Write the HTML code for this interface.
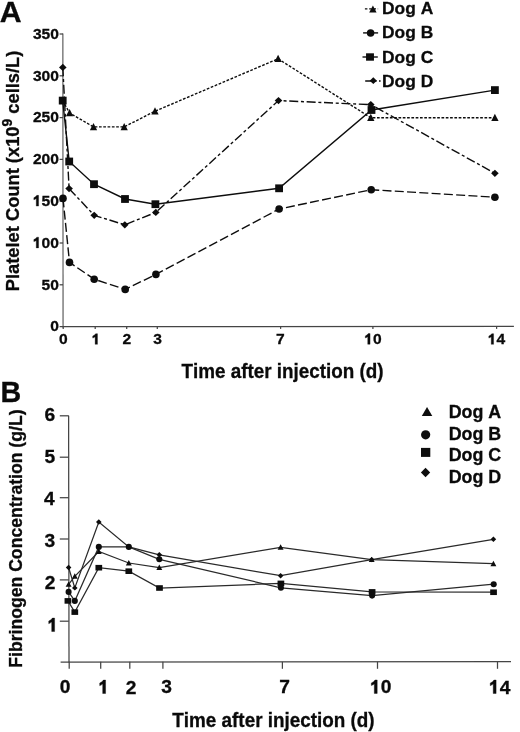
<!DOCTYPE html>
<html><head><meta charset="utf-8"><title>Platelet count and fibrinogen concentration</title>
<style>html,body{margin:0;padding:0;background:#fff;}body{width:520px;height:732px;overflow:hidden;}svg{display:block;filter:grayscale(1) blur(0.35px);}text{font-family:"Liberation Sans", sans-serif;font-weight:bold;fill:#0a0a0a;font-kerning:none;font-variant-ligatures:none;stroke:#0a0a0a;stroke-width:0.3px;}.g1{fill:#0a0a0a;stroke:#0a0a0a;stroke-width:0.02px;}</style>
</head><body>
<svg width="520" height="732" viewBox="0 0 520 732">
<rect width="520" height="732" fill="#fff"/>
<text transform="translate(-0.35,21.60) scale(1.0204,1)" font-size="29.65">A</text>
<path d="M62.8,33.6 L63.1,327.2" stroke="#888" stroke-width="1.6" fill="none"/>
<g stroke="#454545" stroke-width="1.25" fill="none">
<path d="M62.3,326.7 L513.9,326.4"/>
<path d="M59.6,326.6H63"/>
<path d="M59.6,284.8H63"/>
<path d="M59.6,243.0H63"/>
<path d="M59.6,201.2H63"/>
<path d="M59.6,159.4H63"/>
<path d="M59.6,117.6H63"/>
<path d="M59.6,75.8H63"/>
<path d="M59.6,34.0H63"/>
<path d="M63.2,326.3v2.6"/>
<path d="M95.2,326.3v2.6"/>
<path d="M126.7,326.3v2.6"/>
<path d="M157.3,326.3v2.6"/>
<path d="M280.6,326.3v2.6"/>
<path d="M372.9,326.3v2.6"/>
<path d="M496.6,326.3v2.6"/>
</g>
<text transform="translate(50.26,331.47) scale(1.0200,1)" font-size="15.30">0</text>
<text transform="translate(41.58,289.67) scale(1.0200,1)" font-size="15.30">50</text>
<path class="g1" transform="translate(32.90,247.88) scale(15.606,15.300)" d="M0.215,0L0.365,0L0.365,-0.700L0.250,-0.700Q0.200,-0.600 0.060,-0.545L0.060,-0.410Q0.150,-0.440 0.215,-0.490Z"/><text transform="translate(41.58,247.88) scale(1.0200,1)" font-size="15.30">0</text><text transform="translate(50.26,247.88) scale(1.0200,1)" font-size="15.30">0</text>
<path class="g1" transform="translate(32.90,206.08) scale(15.606,15.300)" d="M0.215,0L0.365,0L0.365,-0.700L0.250,-0.700Q0.200,-0.600 0.060,-0.545L0.060,-0.410Q0.150,-0.440 0.215,-0.490Z"/><text transform="translate(41.58,206.08) scale(1.0200,1)" font-size="15.30">5</text><text transform="translate(50.26,206.08) scale(1.0200,1)" font-size="15.30">0</text>
<text transform="translate(32.90,164.27) scale(1.0200,1)" font-size="15.30">200</text>
<text transform="translate(32.90,122.47) scale(1.0200,1)" font-size="15.30">250</text>
<text transform="translate(32.90,80.66) scale(1.0200,1)" font-size="15.30">300</text>
<text transform="translate(32.90,38.86) scale(1.0200,1)" font-size="15.30">350</text>
<text transform="translate(59.07,344.27) scale(1.0200,1)" font-size="15.30">0</text>
<path class="g1" transform="translate(91.78,344.36) scale(15.606,15.300)" d="M0.215,0L0.365,0L0.365,-0.700L0.250,-0.700Q0.200,-0.600 0.060,-0.545L0.060,-0.410Q0.150,-0.440 0.215,-0.490Z"/>
<text transform="translate(122.40,344.34) scale(1.0200,1)" font-size="15.30">2</text>
<text transform="translate(153.26,344.26) scale(1.0200,1)" font-size="15.30">3</text>
<text transform="translate(275.97,344.26) scale(1.0200,1)" font-size="15.30">7</text>
<path class="g1" transform="translate(364.37,344.28) scale(15.606,15.300)" d="M0.215,0L0.365,0L0.365,-0.700L0.250,-0.700Q0.200,-0.600 0.060,-0.545L0.060,-0.410Q0.150,-0.440 0.215,-0.490Z"/><text transform="translate(373.05,344.28) scale(1.0200,1)" font-size="15.30">0</text>
<path class="g1" transform="translate(487.89,344.36) scale(15.606,15.300)" d="M0.215,0L0.365,0L0.365,-0.700L0.250,-0.700Q0.200,-0.600 0.060,-0.545L0.060,-0.410Q0.150,-0.440 0.215,-0.490Z"/><text transform="translate(496.57,344.36) scale(1.0200,1)" font-size="15.30">4</text>
<text transform="translate(181.59,377.60) scale(0.9394,1)" font-size="20.06">Time after injection (d)</text>
<text transform="translate(18.6,291.23) rotate(-90) scale(0.99,1)" font-size="18.5">Platelet Count (x10<tspan dy="-7.1" font-size="14">9</tspan><tspan dy="7.1"> cells/L)</tspan></text>
<g fill="none" stroke="#0d0d0d" stroke-width="1.4">
<polyline points="62.7,100.6 69.6,113.0 93.5,126.9 124.2,126.9 155.0,111.2 278.1,58.8 370.8,117.7 494.9,117.8" stroke-dasharray="2.7 1.6"/>
<polyline points="63.0,198.4 69.5,262.4 94.2,279.2 125.2,289.4 155.9,274.4 279.1,209.0 371.2,189.7 494.9,197.2" stroke-dasharray="9 3.3"/>
<polyline points="62.7,100.6 69.2,161.5 94.0,184.2 125.0,199.0 155.4,204.2 279.1,188.3 371.5,110.0 494.9,90.1"/>
<polyline points="62.8,67.4 69.1,188.6 94.2,215.3 124.8,224.8 155.8,212.4 278.5,100.6 370.8,104.6 494.9,173.3" stroke-dasharray="9 2.7 3 2.7"/>
</g>
<g fill="#0d0d0d">
<path d="M62.70,96.58L66.35,103.88L59.05,103.88Z"/>
<path d="M69.60,108.98L73.25,116.28L65.95,116.28Z"/>
<path d="M93.50,122.89L97.15,130.19L89.85,130.19Z"/>
<path d="M124.20,122.89L127.85,130.19L120.55,130.19Z"/>
<path d="M155.00,107.19L158.65,114.48L151.35,114.48Z"/>
<path d="M278.10,54.78L281.75,62.08L274.45,62.08Z"/>
<path d="M370.80,113.69L374.45,120.98L367.15,120.98Z"/>
<path d="M494.90,113.78L498.55,121.08L491.25,121.08Z"/>
<circle cx="63.00" cy="198.40" r="3.80"/>
<circle cx="69.50" cy="262.40" r="3.80"/>
<circle cx="94.20" cy="279.20" r="3.80"/>
<circle cx="125.20" cy="289.40" r="3.80"/>
<circle cx="155.90" cy="274.40" r="3.80"/>
<circle cx="279.10" cy="209.00" r="3.80"/>
<circle cx="371.20" cy="189.70" r="3.80"/>
<circle cx="494.90" cy="197.20" r="3.80"/>
<path d="M62.80,63.75L66.60,67.40L62.80,71.05L59.00,67.40Z"/>
<path d="M69.10,184.95L72.90,188.60L69.10,192.25L65.30,188.60Z"/>
<path d="M94.20,211.65L98.00,215.30L94.20,218.95L90.40,215.30Z"/>
<path d="M124.80,221.15L128.60,224.80L124.80,228.45L121.00,224.80Z"/>
<path d="M155.80,208.75L159.60,212.40L155.80,216.05L152.00,212.40Z"/>
<path d="M278.50,96.95L282.30,100.60L278.50,104.25L274.70,100.60Z"/>
<path d="M370.80,100.95L374.60,104.60L370.80,108.25L367.00,104.60Z"/>
<path d="M494.90,169.65L498.70,173.30L494.90,176.95L491.10,173.30Z"/>
<rect x="58.80" y="96.70" width="7.80" height="7.80"/>
<rect x="65.30" y="157.60" width="7.80" height="7.80"/>
<rect x="90.10" y="180.30" width="7.80" height="7.80"/>
<rect x="121.10" y="195.10" width="7.80" height="7.80"/>
<rect x="151.50" y="200.30" width="7.80" height="7.80"/>
<rect x="275.20" y="184.40" width="7.80" height="7.80"/>
<rect x="367.60" y="106.10" width="7.80" height="7.80"/>
<rect x="491.00" y="86.20" width="7.80" height="7.80"/>
</g>
<text transform="translate(382.04,14.10) scale(1.0145,1)" font-size="17.15">Dog A</text>
<text transform="translate(382.04,38.40) scale(1.0145,1)" font-size="17.15">Dog B</text>
<text transform="translate(382.04,62.80) scale(1.0145,1)" font-size="17.15">Dog C</text>
<text transform="translate(382.04,87.10) scale(1.0145,1)" font-size="17.15">Dog D</text>
<g fill="none" stroke="#0d0d0d" stroke-width="1.4">
<path d="M364.9,8.9H378.1" stroke-dasharray="2.5 1.8"/>
<path d="M363.1,32.9H378.1"/>
<path d="M362.5,57H377.8"/>
<path d="M365.2,81H376.6M379,81H380.6"/>
</g>
<g fill="#0d0d0d">
<path d="M372.90,5.40L376.60,12.50L369.20,12.50Z"/>
<circle cx="370.60" cy="33.00" r="3.75"/>
<rect x="366.05" y="53.30" width="7.90" height="7.40"/>
<path d="M373.30,77.30L376.90,80.70L373.30,84.10L369.70,80.70Z"/>
</g>
<text transform="translate(0.38,402.40) scale(0.9725,1)" font-size="29.51">B</text>
<g stroke="#454545" stroke-width="1.25" fill="none">
<path d="M68.6,415.8 L69.0,662.5"/>
<path d="M60.6,662.0 L511,661.6"/>
<path d="M59.8,415.8H68.8"/>
<path d="M59.8,457.2H68.8"/>
<path d="M59.8,497.7H68.8"/>
<path d="M59.8,539.0H68.8"/>
<path d="M59.8,579.9H68.8"/>
<path d="M59.8,621.2H68.8"/>
<path d="M69.2,661.8v7"/>
<path d="M100.7,661.8v7"/>
<path d="M129.8,661.8v7"/>
<path d="M162.9,661.8v7"/>
<path d="M282.4,661.8v7"/>
<path d="M377.5,661.8v7"/>
<path d="M497.5,661.8v7"/>
</g>
<text transform="translate(44.62,420.76)" font-size="19.20">6</text>
<text transform="translate(44.46,462.91)" font-size="19.20">5</text>
<text transform="translate(44.03,504.80)" font-size="19.20">4</text>
<text transform="translate(44.62,547.00)" font-size="19.20">3</text>
<text transform="translate(44.69,589.10)" font-size="19.20">2</text>
<path class="g1" transform="translate(47.59,631.52) scale(19.200,19.200)" d="M0.215,0L0.365,0L0.365,-0.700L0.250,-0.700Q0.200,-0.600 0.060,-0.545L0.060,-0.410Q0.150,-0.440 0.215,-0.490Z"/>
<text transform="translate(59.83,693.41)" font-size="19.20">0</text>
<path class="g1" transform="translate(98.57,693.52) scale(19.200,19.200)" d="M0.215,0L0.365,0L0.365,-0.700L0.250,-0.700Q0.200,-0.600 0.060,-0.545L0.060,-0.410Q0.150,-0.440 0.215,-0.490Z"/>
<text transform="translate(125.71,693.50)" font-size="19.20">2</text>
<text transform="translate(161.14,693.40)" font-size="19.20">3</text>
<text transform="translate(279.27,693.40)" font-size="19.20">7</text>
<path class="g1" transform="translate(370.19,693.43) scale(19.200,19.200)" d="M0.215,0L0.365,0L0.365,-0.700L0.250,-0.700Q0.200,-0.600 0.060,-0.545L0.060,-0.410Q0.150,-0.440 0.215,-0.490Z"/><text transform="translate(380.87,693.43)" font-size="19.20">0</text>
<path class="g1" transform="translate(489.10,693.52) scale(19.200,19.200)" d="M0.215,0L0.365,0L0.365,-0.700L0.250,-0.700Q0.200,-0.600 0.060,-0.545L0.060,-0.410Q0.150,-0.440 0.215,-0.490Z"/><text transform="translate(499.78,693.52)" font-size="19.20">4</text>
<text transform="translate(172.29,726.90) scale(0.9412,1)" font-size="20.06">Time after injection (d)</text>
<text transform="translate(22.1,667.68) rotate(-90) scale(0.9575,1)" font-size="18.4">Fibrinogen Concentration (g/L)</text>
<g fill="none" stroke="#2a2a2a" stroke-width="1.25">
<polyline points="68.6,584.4 74.8,576.3 98.8,551.5 128.8,563.0 159.3,567.5 280.6,547.3 371.7,559.6 493.4,563.7"/>
<polyline points="68.6,591.9 74.8,600.9 98.8,546.9 128.8,546.9 159.3,559.3 280.9,587.8 372.1,595.6 493.7,584.2"/>
<polyline points="67.9,600.9 74.8,612.1 98.8,567.7 128.8,571.2 159.5,588.0 280.9,583.4 372.1,591.9 493.6,592.2"/>
<polyline points="68.6,567.5 74.8,587.9 98.8,522.0 128.8,546.9 159.3,554.8 280.6,575.7 371.7,559.6 493.4,539.3"/>
</g>
<g fill="#0d0d0d">
<path d="M68.60,581.43L71.55,586.83L65.65,586.83Z"/>
<path d="M74.80,573.33L77.75,578.73L71.85,578.73Z"/>
<path d="M98.80,548.53L101.75,553.93L95.85,553.93Z"/>
<path d="M128.80,560.03L131.75,565.43L125.85,565.43Z"/>
<path d="M159.30,564.53L162.25,569.93L156.35,569.93Z"/>
<path d="M280.60,544.33L283.55,549.73L277.65,549.73Z"/>
<path d="M371.70,556.63L374.65,562.03L368.75,562.03Z"/>
<path d="M493.40,560.73L496.35,566.13L490.45,566.13Z"/>
<circle cx="68.60" cy="591.90" r="3.05"/>
<circle cx="74.80" cy="600.90" r="3.05"/>
<circle cx="98.80" cy="546.90" r="3.05"/>
<circle cx="128.80" cy="546.90" r="3.05"/>
<circle cx="159.30" cy="559.30" r="3.05"/>
<circle cx="280.90" cy="587.80" r="3.05"/>
<circle cx="372.10" cy="595.60" r="3.05"/>
<circle cx="493.70" cy="584.25" r="3.05"/>
<rect x="64.55" y="598.10" width="6.70" height="5.60"/>
<rect x="71.45" y="609.30" width="6.70" height="5.60"/>
<rect x="95.45" y="564.90" width="6.70" height="5.60"/>
<rect x="125.45" y="568.40" width="6.70" height="5.60"/>
<rect x="156.15" y="585.20" width="6.70" height="5.60"/>
<rect x="277.55" y="580.60" width="6.70" height="5.60"/>
<rect x="368.75" y="589.10" width="6.70" height="5.60"/>
<rect x="490.20" y="589.45" width="6.70" height="5.60"/>
<path d="M68.60,564.80L71.40,567.50L68.60,570.20L65.80,567.50Z"/>
<path d="M74.80,585.20L77.60,587.90L74.80,590.60L72.00,587.90Z"/>
<path d="M98.80,519.30L101.60,522.00L98.80,524.70L96.00,522.00Z"/>
<path d="M128.80,544.20L131.60,546.90L128.80,549.60L126.00,546.90Z"/>
<path d="M159.30,552.10L162.10,554.80L159.30,557.50L156.50,554.80Z"/>
<path d="M280.60,573.00L283.40,575.70L280.60,578.40L277.80,575.70Z"/>
<path d="M371.70,556.90L374.50,559.60L371.70,562.30L368.90,559.60Z"/>
<path d="M493.40,536.60L496.20,539.30L493.40,542.00L490.60,539.30Z"/>
</g>
<text transform="translate(448.71,417.50) scale(1.0237,1)" font-size="17.44">Dog A</text>
<text transform="translate(448.71,439.60) scale(1.0237,1)" font-size="17.44">Dog B</text>
<text transform="translate(448.71,460.90) scale(1.0237,1)" font-size="17.44">Dog C</text>
<text transform="translate(448.71,483.30) scale(1.0237,1)" font-size="17.44">Dog D</text>
<g fill="#0d0d0d">
<path d="M427.05,406.89L432.30,416.00L421.80,416.00Z"/>
<circle cx="425.65" cy="434.80" r="4.60"/>
<rect x="421.00" y="447.90" width="9.30" height="9.00"/>
<path d="M425.55,467.80L430.20,472.50L425.55,477.20L420.90,472.50Z"/>
</g>
</svg>
</body></html>
